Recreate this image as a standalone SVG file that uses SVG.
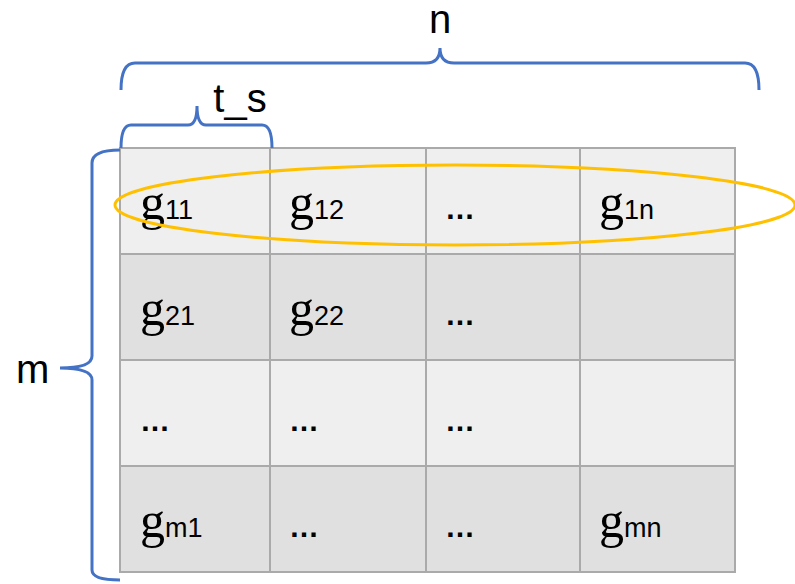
<svg xmlns="http://www.w3.org/2000/svg" width="795" height="584" viewBox="0 0 795 584">
<style>
.lbl{font-family:"Liberation Sans",Arial,sans-serif;font-size:40px;fill:#000}
.g{font-family:"Liberation Serif","Times New Roman",serif;font-size:50px;fill:#000}
.sub{font-family:"Liberation Sans",Arial,sans-serif;font-size:27px;fill:#000}
.dots{font-family:"Liberation Sans",Arial,sans-serif;font-size:30px;font-weight:bold;fill:#000}
.cellA{fill:#efefef;stroke:#aaaaaa;stroke-width:2}
.cellB{fill:#e0e0e0;stroke:#aaaaaa;stroke-width:2}
.brace{fill:none;stroke:#4472C4;stroke-width:3}
</style>
<g id="grid">
<rect class="cellA" x="120" y="148" width="615" height="106"/>
<rect class="cellB" x="120" y="254" width="615" height="106"/>
<rect class="cellA" x="120" y="360" width="615" height="106"/>
<rect class="cellB" x="120" y="466" width="615" height="106"/>
<path d="M270,148V572M426,148V572M580,148V572" stroke="#aaaaaa" stroke-width="2" fill="none"/>
</g>
<g id="cells">
<text x="140" y="219"><tspan class="g">g</tspan><tspan class="sub">11</tspan></text>
<text x="289" y="219"><tspan class="g">g</tspan><tspan class="sub">12</tspan></text>
<text class="dots" x="445" y="219">…</text>
<text x="599" y="219"><tspan class="g">g</tspan><tspan class="sub">1n</tspan></text>
<text x="140" y="325"><tspan class="g">g</tspan><tspan class="sub">21</tspan></text>
<text x="289" y="325"><tspan class="g">g</tspan><tspan class="sub">22</tspan></text>
<text class="dots" x="445" y="325">…</text>
<text class="dots" x="140" y="431">…</text>
<text class="dots" x="289" y="431">…</text>
<text class="dots" x="445" y="431">…</text>
<text x="140" y="537"><tspan class="g">g</tspan><tspan class="sub">m1</tspan></text>
<text class="dots" x="289" y="537">…</text>
<text class="dots" x="445" y="537">…</text>
<text x="599" y="537"><tspan class="g">g</tspan><tspan class="sub">mn</tspan></text>
</g>
<g id="highlight">
<ellipse cx="455" cy="205" rx="340" ry="40" fill="none" stroke="#FFC000" stroke-width="3"/>
</g>
<g id="connectors">
<path class="brace" d="M121,90 Q121,63 135,63 L426,63 Q440,63 440,48 Q440,63 454,63 L745,63 Q759,63 759,90"/>
<path class="brace" d="M121,148 Q121,125 131,125 L188,125 Q197,125 197,106 Q197,125 206,125 L262,125 Q272,125 272,148"/>
<path class="brace" d="M120,150 Q92,150 92,163 L92,356 Q92,368 60,368 Q92,368 92,380 L92,570 Q92,580 120,580"/>
</g>
<g id="labels">
<text class="lbl" x="440" y="33" text-anchor="middle">n</text>
<text class="lbl" x="240" y="112" text-anchor="middle">t_s</text>
<text class="lbl" x="16" y="383">m</text>
</g>
</svg>
